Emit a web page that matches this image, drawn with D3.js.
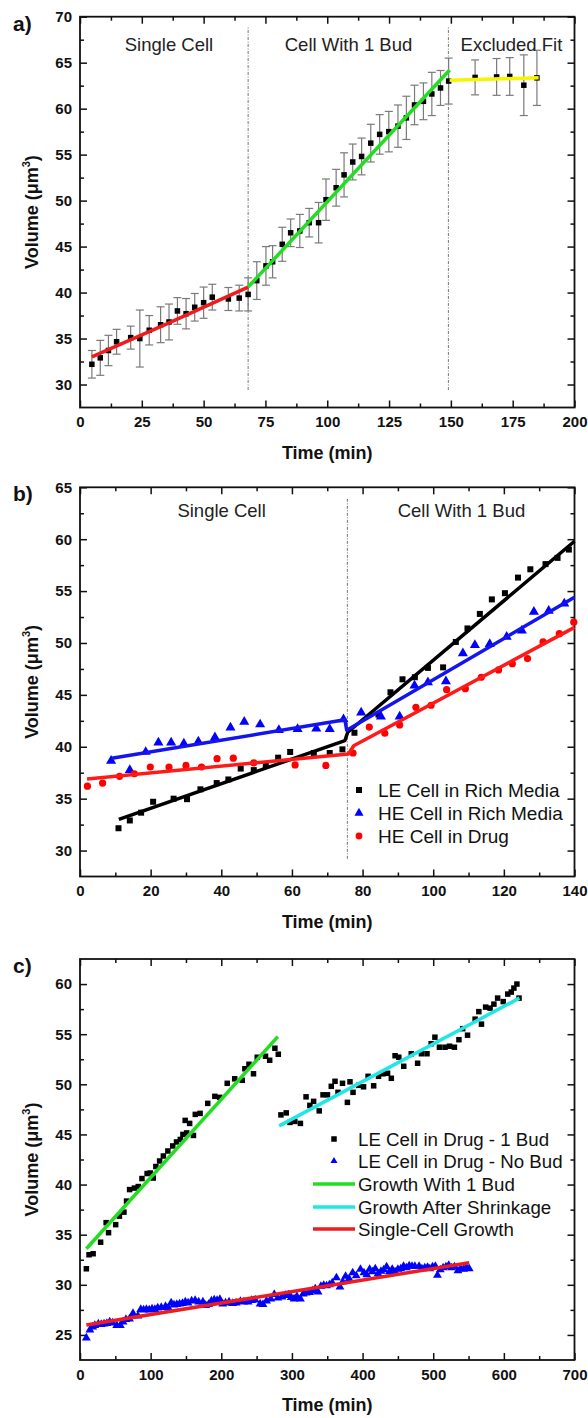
<!DOCTYPE html>
<html><head><meta charset="utf-8">
<script src="https://cdn.jsdelivr.net/npm/d3@7"></script>
<style>
body{margin:0;background:#fff}
svg{display:block}
text{font-family:"Liberation Sans",Arial,Helvetica,sans-serif}
</style>
</head><body>
<svg id="chart" width="588" height="1418"></svg>
<script>
// ---------------- Panel a ----------------
const aTime   = [4.8, 8.2, 11.5, 14.8, 20.5, 24.2, 28.0, 32.6, 36.0, 39.4, 42.9, 46.4, 50.0, 53.5, 60.0, 64.4, 68.0, 71.5, 75.2, 77.9, 81.8, 85.2, 88.9, 92.7, 96.5, 99.5, 103.6, 106.8, 110.3, 113.9, 117.6, 121.2, 124.9, 128.6, 132.0, 135.3, 138.9, 142.3, 145.8, 149.1, 159.8, 168.5, 173.8, 179.5, 184.8];
const aVolume = [32.2, 32.9, 33.7, 34.65, 35.1, 35.0, 35.9, 36.5, 36.8, 38.0, 37.7, 38.4, 38.9, 39.5, 39.3, 39.4, 39.8, 41.3, 42.9, 43.35, 45.25, 46.5, 46.7, 47.6, 47.6, 50.1, 51.4, 52.8, 54.2, 54.8, 56.25, 57.2, 57.5, 58.1, 59.0, 60.4, 60.8, 61.6, 62.25, 63.0, 63.4, 63.45, 63.5, 62.55, 63.35];
const aError  = [1.5, 1.9, 1.65, 1.35, 1.25, 3.1, 1.6, 1.95, 1.95, 1.45, 1.65, 1.5, 1.7, 1.4, 1.25, 1.4, 1.8, 2.05, 2.1, 1.75, 1.85, 1.5, 1.8, 1.55, 2.2, 2.25, 2.0, 2.4, 1.95, 2.0, 2.05, 2.15, 2.2, 2.3, 2.35, 2.15, 2.0, 2.35, 1.9, 2.5, 1.9, 2.0, 2.05, 3.3, 3.0];
const aRedFitT = [4.8, 36, 68];      const aRedFitV = [33.0, 36.7, 40.6];
const aGreenFitT = [68, 149.5];      const aGreenFitV = [40.6, 64.2];
const aYellowFitT = [149.5, 185.5];  const aYellowFitV = [63.1, 63.35];
const aDividers = [68, 149];
const aLabels = ["Single Cell", "Cell With 1 Bud", "Excluded Fit"];
const aLabelX = [36, 108.6, 174.5];
const aXTicks = [0, 25, 50, 75, 100, 125, 150, 175, 200];
const aYTicks = [30, 35, 40, 45, 50, 55, 60, 65, 70];

// ---------------- Panel b ----------------
const bLeRichT = [10.9, 14.1, 17.3, 20.7, 26.5, 30.3, 34.1, 38.7, 42.0, 45.5, 49.2, 52.6, 56.1, 59.5, 66.2, 70.7, 74.3, 77.7, 84.5, 87.9, 91.3, 94.8, 98.5, 102.8, 106.4, 109.7, 113.2, 116.6, 120.3, 124.0, 127.5, 131.8, 135.2, 138.4];
const bLeRichV = [32.15, 32.9, 33.65, 34.7, 35.0, 34.95, 35.9, 36.5, 36.85, 37.9, 37.75, 38.2, 38.95, 39.5, 39.4, 39.4, 39.75, 41.35, 43.1, 45.25, 46.5, 46.7, 47.6, 47.65, 50.1, 51.4, 52.8, 54.2, 54.8, 56.3, 57.1, 57.6, 58.2, 59.0];
const bHeRichT = [8.8, 14.1, 18.6, 22.2, 25.8, 29.4, 33.5, 38.2, 42.6, 46.5, 51.0, 56.3, 61.6, 66.9, 70.7, 74.6, 79.6, 85.2, 90.5, 94.7, 98.5, 103.6, 108.4, 111.8, 116.0, 120.8, 125.1, 128.5, 132.7, 137.1];
const bHeRichV = [38.65, 37.75, 39.5, 40.4, 40.4, 40.3, 40.5, 40.9, 41.85, 42.4, 42.15, 41.6, 41.7, 41.75, 41.7, 42.65, 43.3, 42.9, 42.9, 45.9, 46.2, 46.3, 49.0, 49.8, 49.9, 50.6, 51.2, 53.0, 53.1, 53.8];
const bHeDrugT = [2.1, 6.4, 11.2, 15.4, 19.9, 25.2, 30.0, 34.4, 38.8, 43.4, 49.2, 60.9, 69.6, 77.3, 81.9, 86.3, 90.5, 95.1, 99.4, 103.8, 109.1, 113.6, 118.5, 122.4, 126.7, 131.1, 135.7, 139.8];
const bHeDrugV = [36.2, 36.5, 37.15, 37.4, 38.05, 38.05, 38.2, 38.05, 38.85, 38.9, 38.45, 38.25, 38.2, 39.4, 41.9, 41.3, 42.1, 43.8, 44.0, 45.5, 45.6, 46.7, 47.4, 48.0, 48.5, 50.1, 50.9, 52.0];
const bLeFitT = [11, 75, 75.8, 140];  const bLeFitV = [33.0, 40.6, 41.4, 59.8];
const bHeFitT = [9, 75, 75.5, 140];   const bHeFitV = [38.9, 42.6, 41.6, 54.4];
const bDrFitT = [2, 76, 77.5, 140];   const bDrFitV = [36.9, 39.3, 40.1, 51.5];
const bDividers = [75.7];
const bLabels = ["Single Cell", "Cell With 1 Bud"];
const bLabelX = [40.1, 108];
const bLegend = ["LE Cell in Rich Media", "HE Cell in Rich Media", "HE Cell in Drug"];
const bXTicks = [0, 20, 40, 60, 80, 100, 120, 140];
const bYTicks = [30, 35, 40, 45, 50, 55, 60, 65];

// ---------------- Panel c ----------------
const cBudT = [9, 12.8, 18.6, 29.2, 37, 40.4, 50.5, 55.8, 62.2, 65.9, 70.2, 77, 82.4, 87.7, 95, 99.4, 103.7, 107.4, 112.7, 118, 124.4, 131.3, 136.6, 142, 145.7, 148.9, 151, 155.2, 160.6, 163.2, 170, 180.8, 190.9, 197.8, 208.4, 219, 229.7, 233.4, 239.2, 245.6, 250.9, 262.6, 268.5, 275.9, 280.7,
  284.4, 291.9, 297.2, 304.1, 312, 320, 325.4, 330.7, 338.6, 344, 350.3, 355.7, 361, 365.2, 371.6, 378.5, 382.2, 386.5, 394.5, 401.4, 407.8, 415.7, 422.6, 429, 435.4, 440.7, 446, 451.3, 458.3, 468.9, 477.9, 483.3, 491.2, 497.1, 502.4, 508.8, 516.7, 523.1, 530, 536.4, 541.7, 548.6, 559.3, 564.6, 568.3, 574.2, 580.5, 585.9, 591.2, 599.1, 605.5, 610.5, 614.2, 618.5, 621.5];
const cBudV = [31.6, 33.0, 33.1, 34.25, 36.2, 35.2, 36.0, 36.85, 37.25, 38.35, 39.5, 39.65, 39.8, 40.6, 41.1, 41.15, 40.65, 41.8, 42.35, 42.85, 43.35, 43.85, 44.25, 44.5, 45.0, 46.4, 45.15, 46.1, 44.9, 47.0, 47.1, 48.1, 48.8, 48.7, 50.1, 50.55, 50.4, 51.55, 52.0, 51.05, 52.7, 52.8, 52.4, 53.6, 53.0,
  46.95, 47.15, 46.2, 46.3, 46.1, 48.75, 47.9, 48.3, 47.35, 48.95, 48.95, 49.8, 50.3, 49.2, 50.1, 48.2, 50.25, 49.2, 49.9, 49.75, 50.8, 49.85, 50.8, 51.05, 51.1, 50.6, 52.85, 52.7, 51.8, 53.05, 52.1, 53.05, 53.05, 54.05, 54.7, 53.7, 53.7, 53.8, 53.7, 54.45, 55.55, 54.9, 56.5, 57.25, 56.0, 57.7, 57.6, 58.0, 58.6, 58.25, 59.0, 59.2, 59.6, 60.0, 58.6];
const cNoBudT = [9, 14, 18, 21, 26, 30, 34, 38, 42, 46, 52, 57, 61, 65, 70, 75, 82, 86, 90, 94, 98, 102, 106, 110, 115, 121, 125, 129, 133, 137, 141, 145, 149, 153, 158, 163, 168, 174, 178, 182, 186, 190, 194, 198, 202, 206, 211, 216, 221, 227, 232, 238, 243, 248, 255, 259, 264, 270, 275, 280, 286, 291, 295, 299, 303, 307, 312, 316, 320, 325, 329, 333, 337, 341, 345, 349, 353, 357, 363, 368, 372, 376, 381, 386, 391, 397, 402, 406, 410, 414, 418, 422, 426, 430, 434, 438, 442, 446, 450, 454, 458, 462, 466, 470, 474, 480, 484, 488, 492, 495, 499, 503, 506, 510, 514, 518, 522, 526, 530, 535, 539, 543, 547, 551];
const cNoBudV = [24.7, 25.5, 25.8, 25.95, 26.1, 26.05, 26.1, 26.15, 26.3, 26.2, 25.95, 25.95, 26.3, 26.55, 26.6, 27.15, 26.9, 27.55, 27.5, 27.55, 27.5, 27.6, 27.55, 27.7, 27.75, 27.85, 27.7, 28.2, 28.0, 28.05, 28.1, 28.15, 28.3, 28.2, 28.4, 28.45, 28.3, 28.3, 27.95, 28.05, 28.4, 28.5, 28.45, 28.55, 28.1, 28.2, 28.3, 28.15, 28.2, 28.35, 28.3, 28.3, 28.45, 28.5, 28.1, 28.05, 28.4, 28.6, 29.05, 28.7, 28.8, 28.95, 29.0, 28.75, 28.6, 28.85, 28.6, 29.1, 29.2, 29.25, 29.4, 29.6, 29.3, 29.85, 29.95, 29.9, 30.0, 30.2, 30.7, 29.8, 30.3, 30.85, 30.6, 31.2, 30.9, 31.55, 31.2, 31.0, 31.55, 31.3, 31.6, 31.1, 31.35, 31.5, 31.8, 31.3, 31.55, 31.3, 31.55, 31.6, 31.85, 31.7, 31.9, 31.85, 31.85, 31.85, 31.6, 31.7, 31.75, 31.6, 31.8, 31.85, 30.95, 31.5, 31.7, 31.8, 31.95, 31.7, 31.8, 31.4, 31.6, 31.55, 31.75, 31.6];
const cGreenFitT = [9, 280];    const cGreenFitV = [33.6, 54.75];
const cCyanFitT = [282, 622];   const cCyanFitV = [45.85, 58.6];
const cRedFitT = [9, 551];      const cRedFitV = [26.0, 32.2];
const cLegend = ["LE Cell in Drug - 1 Bud", "LE Cell in Drug - No Bud", "Growth With 1 Bud", "Growth After Shrinkage", "Single-Cell Growth"];
const cXTicks = [0, 100, 200, 300, 400, 500, 600, 700];
const cYTicks = [25, 30, 35, 40, 45, 50, 55, 60];

// ---------------- drawing ----------------
const svg = d3.select("#chart");
const X0 = 80, X1 = 574.5;

function makePanel(o) {
  const x = d3.scaleLinear().domain(o.xd).range([X0, X1]);
  const y = d3.scaleLinear().domain(o.yd).range([o.bottom, o.top]);
  const g = svg.append("g");
  const xs = o.xTicks[1] - o.xTicks[0];
  const ys = o.yTicks[1] - o.yTicks[0];
  const xMinor = d3.range(o.xd[0] + xs / 2, o.xd[1], xs);
  const yMinor = d3.range(o.yTicks[0] - ys / 2, o.yd[1] + 1e-9, ys).filter(v => v > o.yd[0] + 1e-6 && v < o.yd[1] - 1e-6);
  const fmt = d3.format("d");
  const axes = g.append("g").attr("class", "axes");
  axes.append("g").attr("transform", `translate(0,${o.bottom})`)
    .call(d3.axisBottom(x).tickValues(o.xTicks).tickSize(-7).tickPadding(9).tickFormat(fmt));
  axes.append("g").attr("transform", `translate(0,${o.bottom})`)
    .call(d3.axisBottom(x).tickValues(xMinor).tickSize(-4).tickFormat(""));
  axes.append("g").attr("transform", `translate(0,${o.top})`)
    .call(d3.axisTop(x).tickValues(o.xTicks).tickSize(-7).tickFormat(""));
  axes.append("g").attr("transform", `translate(0,${o.top})`)
    .call(d3.axisTop(x).tickValues(xMinor).tickSize(-4).tickFormat(""));
  axes.append("g").attr("transform", `translate(${X0},0)`)
    .call(d3.axisLeft(y).tickValues(o.yTicks).tickSize(-7).tickPadding(8).tickFormat(fmt));
  axes.append("g").attr("transform", `translate(${X0},0)`)
    .call(d3.axisLeft(y).tickValues(yMinor).tickSize(-4).tickFormat(""));
  axes.append("g").attr("transform", `translate(${X1},0)`)
    .call(d3.axisRight(y).tickValues(o.yTicks).tickSize(-7).tickFormat(""));
  axes.append("g").attr("transform", `translate(${X1},0)`)
    .call(d3.axisRight(y).tickValues(yMinor).tickSize(-4).tickFormat(""));
  axes.selectAll(".domain").remove();
  axes.selectAll(".tick line").attr("stroke", "#111").attr("stroke-width", 1.5);
  axes.selectAll(".tick text").attr("font-size", 15).attr("font-weight", "bold")
    .attr("fill", "#111").attr("font-family", '"Liberation Sans",Arial,sans-serif');
  g.append("rect").attr("x", X0).attr("y", o.top).attr("width", X1 - X0).attr("height", o.bottom - o.top)
    .attr("fill", "none").attr("stroke", "#111").attr("stroke-width", 1.8);
  // titles
  g.append("text").attr("x", (X0 + X1) / 2).attr("y", o.bottom + 51).attr("text-anchor", "middle")
    .attr("font-size", 18).attr("font-weight", "bold").attr("fill", "#111").text("Time (min)");
  const yt = g.append("text").attr("transform", `translate(38,${(o.top + o.bottom) / 2}) rotate(-90)`)
    .attr("text-anchor", "middle").attr("font-size", 18).attr("font-weight", "bold").attr("fill", "#111");
  yt.append("tspan").text("Volume (\u03bcm");
  yt.append("tspan").attr("font-size", 11).attr("dy", -8).text("3");
  yt.append("tspan").attr("dy", 8).text(")");
  g.append("text").attr("x", 13).attr("y", o.top + 14).attr("font-size", 21).attr("font-weight", "bold")
    .attr("fill", "#111").text(o.letter);
  return { x, y, g };
}

function fitLine(p, ts, vs, color, w) {
  const line = d3.line().x(d => p.x(d[0])).y(d => p.y(d[1]));
  p.g.append("path").datum(ts.map((t, i) => [t, vs[i]])).attr("d", line)
    .attr("fill", "none").attr("stroke", color).attr("stroke-width", w || 3.5)
    .attr("stroke-linejoin", "round").attr("stroke-linecap", "butt");
}
function divider(p, t, v0, v1) {
  p.g.append("line").attr("x1", p.x(t)).attr("x2", p.x(t)).attr("y1", p.y(v0)).attr("y2", p.y(v1))
    .attr("stroke", "#777").attr("stroke-width", 1).attr("stroke-dasharray", "3,1.5,1,1.5");
}
function squares(p, ts, vs, s) {
  p.g.append("g").selectAll("rect").data(ts.map((t, i) => [t, vs[i]])).join("rect")
    .attr("x", d => p.x(d[0]) - s / 2).attr("y", d => p.y(d[1]) - s / 2)
    .attr("width", s).attr("height", s).attr("fill", "#000");
}
function triangles(p, ts, vs, size) {
  const sym = d3.symbol().type(d3.symbolTriangle).size(size);
  p.g.append("g").selectAll("path").data(ts.map((t, i) => [t, vs[i]])).join("path")
    .attr("d", sym).attr("transform", d => `translate(${p.x(d[0])},${p.y(d[1])})`).attr("fill", "#0000ff");
}
function circles(p, ts, vs, r) {
  p.g.append("g").selectAll("circle").data(ts.map((t, i) => [t, vs[i]])).join("circle")
    .attr("cx", d => p.x(d[0])).attr("cy", d => p.y(d[1])).attr("r", r).attr("fill", "#ff0000");
}
function annot(p, txt, t, v) {
  p.g.append("text").attr("x", p.x(t)).attr("y", p.y(v)).attr("text-anchor", "middle")
    .attr("font-size", 18.5).attr("fill", "#222").text(txt);
}

// ---- panel a ----
const pa = makePanel({ xd: [0, 200], yd: [27.5, 70], top: 16.7, bottom: 407.5, xTicks: aXTicks, yTicks: aYTicks, letter: "a)" });
aDividers.forEach(t => divider(pa, t, 29.4, 68.9));
const eb = pa.g.append("g").attr("stroke", "#7a7a7a").attr("stroke-width", 1.2);
aTime.forEach((t, i) => {
  const cx = pa.x(t), yt = pa.y(aVolume[i] + aError[i]), yb = pa.y(aVolume[i] - aError[i]);
  eb.append("line").attr("x1", cx).attr("x2", cx).attr("y1", yt).attr("y2", yb);
  eb.append("line").attr("x1", cx - 4).attr("x2", cx + 4).attr("y1", yt).attr("y2", yt);
  eb.append("line").attr("x1", cx - 4).attr("x2", cx + 4).attr("y1", yb).attr("y2", yb);
});
squares(pa, aTime, aVolume, 5.5);
fitLine(pa, aRedFitT, aRedFitV, "#ee1c1c");
fitLine(pa, aGreenFitT, aGreenFitV, "#22dd22");
fitLine(pa, aYellowFitT, aYellowFitV, "#f5f500");
aLabels.forEach((s, i) => annot(pa, s, aLabelX[i], 66.3));

// ---- panel b ----
const pb = makePanel({ xd: [0, 140], yd: [27.5, 65], top: 487.3, bottom: 876.5, xTicks: bXTicks, yTicks: bYTicks, letter: "b)" });
bDividers.forEach(t => divider(pb, t, 29.2, 64.0));
squares(pb, bLeRichT, bLeRichV, 6);
triangles(pb, bHeRichT, bHeRichV, 44);
circles(pb, bHeDrugT, bHeDrugV, 3.6);
fitLine(pb, bLeFitT, bLeFitV, "#000");
fitLine(pb, bHeFitT, bHeFitV, "#1414ee");
fitLine(pb, bDrFitT, bDrFitV, "#ff1a1a");
bLabels.forEach((s, i) => annot(pb, s, bLabelX[i], 62.1));
const bLegY = [790, 813, 836];
bLegend.forEach((s, i) => {
  const cy = bLegY[i];
  if (i === 0) pb.g.append("rect").attr("x", 359 - 3).attr("y", cy - 3).attr("width", 6).attr("height", 6).attr("fill", "#000");
  if (i === 1) pb.g.append("path").attr("d", d3.symbol().type(d3.symbolTriangle).size(36)).attr("transform", `translate(359,${cy})`).attr("fill", "#0000ff");
  if (i === 2) pb.g.append("circle").attr("cx", 359).attr("cy", cy).attr("r", 3.4).attr("fill", "#ff0000");
  pb.g.append("text").attr("x", 378).attr("y", cy).attr("dy", "0.36em").attr("font-size", 19).attr("fill", "#111").text(s);
});

// ---- panel c ----
const pc = makePanel({ xd: [0, 700], yd: [22.5, 62.5], top: 959, bottom: 1360, xTicks: cXTicks, yTicks: cYTicks, letter: "c)" });
squares(pc, cBudT, cBudV, 5.5);
triangles(pc, cNoBudT, cNoBudV, 34);
fitLine(pc, cGreenFitT, cGreenFitV, "#22dd22");
fitLine(pc, cCyanFitT, cCyanFitV, "#22e6e6");
fitLine(pc, cRedFitT, cRedFitV, "#ee1c1c");
const cLegY = [1139, 1161, 1184, 1207, 1229];
const cLegColors = [null, null, "#22dd22", "#22e6e6", "#ee1c1c"];
cLegend.forEach((s, i) => {
  const cy = cLegY[i];
  if (i === 0) pc.g.append("rect").attr("x", 334 - 2.75).attr("y", cy - 2.75).attr("width", 5.5).attr("height", 5.5).attr("fill", "#000");
  if (i === 1) pc.g.append("path").attr("d", d3.symbol().type(d3.symbolTriangle).size(22)).attr("transform", `translate(334,${cy})`).attr("fill", "#0000ff");
  if (i >= 2) pc.g.append("line").attr("x1", 313).attr("x2", 355).attr("y1", cy).attr("y2", cy).attr("stroke", cLegColors[i]).attr("stroke-width", 3.5);
  pc.g.append("text").attr("x", 358).attr("y", cy).attr("dy", "0.36em").attr("font-size", 18.7).attr("fill", "#111").text(s);
});
</script>
</body></html>
